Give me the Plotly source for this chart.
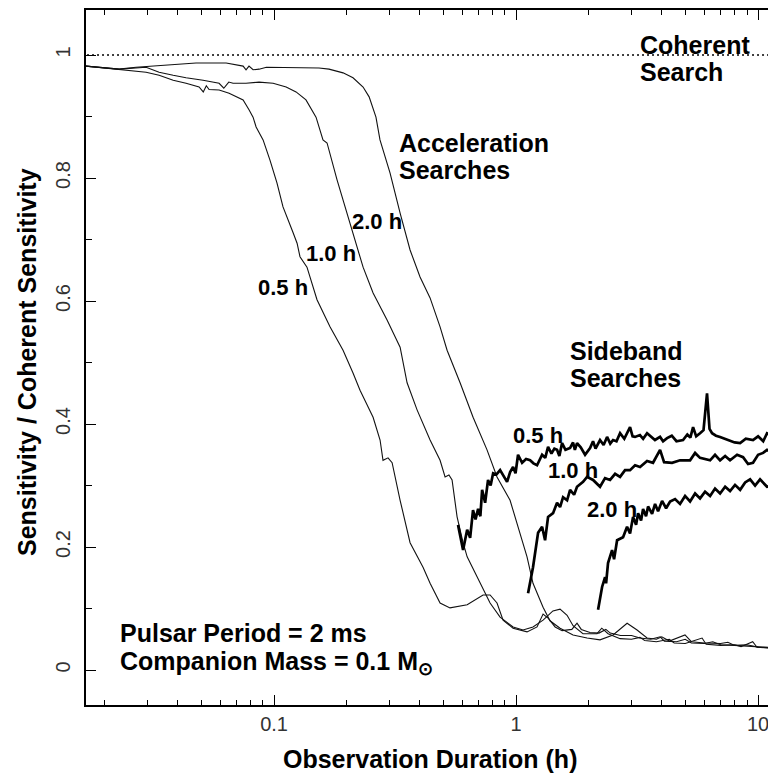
import plotly.graph_objects as go

# ---------------- data (x: observation duration in hours, y: relative sensitivity) ----------------
coherent_x = [0.01, 20.0]
coherent_y = [1.0, 1.0]

acc05_x = [0.0167, 0.0202, 0.0229, 0.0296, 0.0335, 0.0383, 0.0433, 0.0465, 0.0490, 0.0510, 0.0525, 0.0539,
           0.0593, 0.0652, 0.0697, 0.0745, 0.0788, 0.0819, 0.0843, 0.0901, 0.0962, 0.1028, 0.1089, 0.1132,
           0.1199, 0.1245, 0.1280, 0.1368, 0.1505, 0.1703, 0.1928, 0.2120, 0.2266, 0.2566, 0.2742, 0.2820,
           0.2958, 0.3075, 0.3318, 0.3648, 0.4127, 0.4413, 0.4853, 0.5335, 0.6281, 0.7306, 0.7809, 0.8343,
           0.8836, 0.9719, 1.110, 1.221, 1.293, 1.36, 1.45, 1.55, 1.70, 1.786, 1.86, 2.02, 2.2, 2.35, 2.45,
           2.7, 3.0, 3.25, 3.6, 3.94, 4.1, 4.6, 5.0, 5.3, 6.0, 6.5, 7.0, 8.0, 9.0, 10.0, 11.9]
acc05_y = [0.982, 0.979, 0.977, 0.972, 0.967, 0.959, 0.954, 0.950, 0.948, 0.940, 0.950, 0.944,
           0.943, 0.938, 0.932, 0.927, 0.911, 0.899, 0.883, 0.862, 0.829, 0.792, 0.753, 0.737,
           0.711, 0.694, 0.672, 0.655, 0.602, 0.558, 0.520, 0.483, 0.455, 0.411, 0.374, 0.341,
           0.345, 0.337, 0.276, 0.207, 0.167, 0.141, 0.109, 0.101, 0.106, 0.122, 0.122, 0.109,
           0.081, 0.068, 0.062, 0.070, 0.091, 0.084, 0.070, 0.064, 0.066, 0.076, 0.066, 0.061, 0.060, 0.066, 0.060,
           0.056, 0.056, 0.052, 0.050, 0.054, 0.047, 0.046, 0.050, 0.044, 0.043, 0.046, 0.041, 0.040, 0.039, 0.037, 0.036]

acc10_x = [0.0167, 0.0229, 0.0296, 0.0335, 0.0383, 0.0433, 0.0509, 0.0593, 0.062, 0.065, 0.0677, 0.0766,
           0.0867, 0.0991, 0.1122, 0.1233, 0.1355, 0.1491, 0.1593, 0.1656, 0.1821, 0.2003, 0.2203, 0.2333,
           0.2566, 0.2931, 0.3318, 0.3546, 0.3899, 0.4413, 0.4853, 0.509, 0.528, 0.544, 0.5706, 0.604,
           0.628, 0.690, 0.731, 0.781, 0.859, 0.972, 1.069, 1.175, 1.293, 1.42, 1.52, 1.625, 1.72, 1.89,
           2.16, 2.26, 2.4, 2.69, 3.0, 3.25, 3.4, 3.8, 4.3, 4.5, 5.0, 5.87, 6.1, 7.0, 8.0, 8.5, 9.5, 9.9, 11.9]
acc10_y = [0.982, 0.977, 0.980, 0.972, 0.967, 0.963, 0.959, 0.954, 0.946, 0.956, 0.954, 0.954,
           0.956, 0.954, 0.948, 0.940, 0.927, 0.899, 0.862, 0.857, 0.797, 0.743, 0.688, 0.655,
           0.613, 0.569, 0.525, 0.467, 0.423, 0.374, 0.341, 0.314, 0.317, 0.309, 0.249, 0.207,
           0.184, 0.151, 0.130, 0.109, 0.086, 0.070, 0.065, 0.070, 0.081, 0.096, 0.099, 0.089, 0.072, 0.059,
           0.059, 0.068, 0.059, 0.051, 0.050, 0.053, 0.048, 0.046, 0.050, 0.044, 0.043, 0.052, 0.042, 0.040,
           0.041, 0.038, 0.046, 0.037, 0.035]

acc20_x = [0.0167, 0.0202, 0.0229, 0.0269, 0.0316, 0.0383, 0.0476, 0.0634, 0.0745, 0.0766, 0.0788, 0.0819,
           0.0867, 0.0930, 0.1122, 0.1318, 0.1534, 0.1687, 0.1928, 0.2120, 0.2333, 0.2471, 0.2637, 0.274,
           0.3016, 0.3318, 0.3648, 0.4011, 0.4413, 0.4853, 0.5188, 0.5871, 0.6643, 0.7586, 0.8343, 0.9446,
           1.0095, 1.110, 1.175, 1.293, 1.381, 1.52, 1.72, 1.965, 2.223, 2.517, 2.876, 3.162, 3.478, 3.8,
           4.0, 4.3, 4.99, 5.3, 6.0, 7.0, 7.5, 8.0, 9.0, 10.0, 11.9]
acc20_y = [0.982, 0.979, 0.977, 0.980, 0.982, 0.985, 0.987, 0.987, 0.982, 0.976, 0.982, 0.976,
           0.977, 0.980, 0.980, 0.979, 0.979, 0.977, 0.971, 0.963, 0.948, 0.932, 0.899, 0.862,
           0.808, 0.743, 0.683, 0.639, 0.605, 0.558, 0.520, 0.467, 0.411, 0.358, 0.314, 0.276,
           0.239, 0.184, 0.141, 0.102, 0.080, 0.068, 0.057, 0.052, 0.049, 0.057, 0.076, 0.065, 0.052, 0.050,
           0.054, 0.047, 0.057, 0.046, 0.044, 0.043, 0.045, 0.040, 0.041, 0.037, 0.036]

sb05_x = [0.5757, 0.604, 0.628, 0.646, 0.664, 0.680, 0.697, 0.712, 0.724, 0.745, 0.766, 0.785, 0.804, 0.830,
          0.859, 0.885, 0.918, 0.945, 0.972, 0.995, 1.019, 1.059, 1.10, 1.143, 1.18, 1.221, 1.281, 1.32,
          1.356, 1.40, 1.44, 1.477, 1.51, 1.549, 1.60, 1.672, 1.72, 1.75, 1.786, 1.85, 1.928, 2.022, 2.08,
          2.13, 2.223, 2.30, 2.377, 2.45, 2.517, 2.60, 2.69, 2.80, 2.958, 3.03, 3.102, 3.25, 3.35, 3.478,
          3.60, 3.75, 3.936, 4.05, 4.207, 4.40, 4.60, 4.898, 5.10, 5.25, 5.388, 5.55, 5.757, 5.95, 6.152,
          6.30, 6.455, 6.70, 6.966, 7.30, 7.66, 8.00, 8.43, 8.90, 9.53, 10.0, 10.5, 10.89, 11.9]
sb05_y = [0.236, 0.195, 0.228, 0.215, 0.260, 0.245, 0.262, 0.250, 0.293, 0.272, 0.309, 0.300, 0.320, 0.318,
          0.325, 0.316, 0.306, 0.322, 0.330, 0.320, 0.350, 0.337, 0.343, 0.341, 0.336, 0.333, 0.350, 0.345,
          0.363, 0.352, 0.360, 0.358, 0.348, 0.369, 0.358, 0.361, 0.370, 0.358, 0.369, 0.362, 0.350, 0.361, 0.372,
          0.360, 0.374, 0.366, 0.379, 0.368, 0.374, 0.372, 0.385, 0.376, 0.395, 0.380, 0.379, 0.382, 0.376, 0.385,
          0.380, 0.374, 0.379, 0.372, 0.377, 0.381, 0.372, 0.374, 0.383, 0.378, 0.395, 0.380, 0.385, 0.390, 0.450,
          0.392, 0.385, 0.381, 0.379, 0.376, 0.374, 0.370, 0.369, 0.376, 0.374, 0.380, 0.372, 0.385, 0.378]

sb10_x = [1.121, 1.175, 1.233, 1.281, 1.318, 1.356, 1.422, 1.477, 1.52, 1.564, 1.625, 1.672, 1.737, 1.786,
          1.892, 1.965, 2.081, 2.223, 2.332, 2.446, 2.566, 2.69, 2.82, 2.958, 3.102, 3.254, 3.478, 3.68,
          3.936, 4.089, 4.412, 4.76, 5.236, 5.492, 5.757, 6.335, 6.64, 6.966, 7.31, 7.66, 8.19, 8.67,
          9.09, 9.53, 10.0, 10.49, 10.89, 11.9]
sb10_y = [0.125, 0.167, 0.223, 0.233, 0.211, 0.249, 0.255, 0.272, 0.265, 0.281, 0.276, 0.293, 0.285, 0.298,
          0.306, 0.314, 0.309, 0.298, 0.312, 0.309, 0.319, 0.314, 0.325, 0.325, 0.333, 0.330, 0.340, 0.337,
          0.358, 0.338, 0.337, 0.341, 0.341, 0.353, 0.345, 0.341, 0.350, 0.341, 0.348, 0.341, 0.350, 0.346,
          0.335, 0.337, 0.350, 0.353, 0.358, 0.350]

sb20_x = [2.182, 2.267, 2.332, 2.355, 2.399, 2.493, 2.541, 2.615, 2.768, 2.875, 2.958, 3.044, 3.133, 3.193,
          3.285, 3.348, 3.444, 3.512, 3.648, 3.753, 3.862, 4.012, 4.168, 4.329, 4.54, 4.76, 4.992, 5.236,
          5.492, 5.757, 6.04, 6.335, 6.64, 6.966, 7.31, 7.66, 8.03, 8.43, 8.84, 9.27, 9.72, 10.19, 10.89, 11.9]
sb20_y = [0.098, 0.135, 0.151, 0.141, 0.174, 0.195, 0.180, 0.211, 0.216, 0.233, 0.222, 0.249, 0.236, 0.255,
          0.243, 0.262, 0.250, 0.266, 0.254, 0.270, 0.258, 0.275, 0.263, 0.274, 0.278, 0.270, 0.283, 0.274,
          0.287, 0.279, 0.290, 0.283, 0.295, 0.287, 0.298, 0.291, 0.301, 0.293, 0.305, 0.310, 0.300, 0.310,
          0.298, 0.300]

y_ticks = [0, 0.2, 0.4, 0.6, 0.8, 1.0]
y_ticktext = ["0", "0.2", "0.4", "0.6", "0.8", "1"]
x_ticks = [0.1, 1, 10]
x_ticktext = ["0.1", "1", "10"]

# ---------------- figure ----------------
BOLD = "Liberation Sans, Arial, sans-serif"
REG = "Liberation Sans, Arial, sans-serif"
fig = go.Figure()

thin = dict(color="#111111", width=1.1)
thick = dict(color="#000000", width=2.7)

for xs, ys in [(acc05_x, acc05_y), (acc10_x, acc10_y), (acc20_x, acc20_y)]:
    fig.add_trace(go.Scatter(x=xs, y=ys, mode="lines", line=thin, hoverinfo="skip"))
for xs, ys in [(sb05_x, sb05_y), (sb10_x, sb10_y), (sb20_x, sb20_y)]:
    fig.add_trace(go.Scatter(x=xs, y=ys, mode="lines", line=thick, hoverinfo="skip"))
fig.add_trace(go.Scatter(x=coherent_x, y=coherent_y, mode="lines",
                         line=dict(color="black", width=1.6, dash="2px,3px"), hoverinfo="skip"))

y_range = [-0.0569, 1.0732]
fig.update_layout(
    width=768, height=775,
    margin=dict(l=86, r=0, t=10, b=70),
    paper_bgcolor="white", plot_bgcolor="white",
    showlegend=False,
    xaxis=dict(
        type="log", range=[-1.777, 1.041], automargin=False,
        showline=True, linecolor="black", linewidth=1.5, mirror="ticks",
        ticks="inside", ticklen=10, tickwidth=1.3, tickcolor="black",
        tickmode="array", tickvals=x_ticks, ticktext=x_ticktext,
        tickfont=dict(family=REG, size=20, color="#333333"),
        ticklabelstandoff=0, ticklabeloverflow="allow",
        minor=dict(ticks="inside", ticklen=5, tickwidth=1, tickcolor="black", dtick="D1", showgrid=False),
        showgrid=False, zeroline=False,
    ),
    yaxis=dict(
        range=y_range, automargin=False,
        showline=True, linecolor="black", linewidth=1.5, mirror=False,
        ticks="inside", ticklen=10, tickwidth=1.3, tickcolor="black",
        tickmode="array", tickvals=y_ticks, ticktext=y_ticktext, tickangle=-90,
        tickfont=dict(family=REG, size=20, color="#333333"),
        ticklabelstandoff=6,
        minor=dict(ticks="inside", ticklen=6, tickwidth=1, tickcolor="black", dtick=0.1, tick0=0, showgrid=False),
        showgrid=False, zeroline=False,
    ),
    yaxis2=dict(
        range=y_range, overlaying="y", side="right", anchor="x", automargin=False,
        showline=False, ticks="inside", ticklen=3, tickwidth=1.3, tickcolor="black",
        tickmode="array", tickvals=y_ticks, showticklabels=False,
        minor=dict(ticks="inside", ticklen=3, tickwidth=1, tickcolor="black", dtick=0.1, tick0=0, showgrid=False),
        showgrid=False, zeroline=False,
    ),
)

# axis titles
fig.add_annotation(text="<b>Sensitivity / Coherent Sensitivity</b>", xref="paper", yref="paper",
                   x=-0.0865, y=0.4935, textangle=-90, xanchor="center", yanchor="middle",
                   showarrow=False, font=dict(family=BOLD, size=25, color="black"))
fig.add_annotation(text="<b>Observation Duration (h)</b>", xref="paper", yref="paper",
                   x=0.505, y=-0.078, xanchor="center", yanchor="middle",
                   showarrow=False, font=dict(family=BOLD, size=25, color="black"))

big = dict(family=BOLD, size=25, color="black")
small = dict(family=BOLD, size=22, color="black")
labels = [
    ("Coherent", 0.809, 0.950, "left", big),
    ("Search", 0.809, 0.911, "left", big),
    ("Acceleration", 0.456, 0.809, "left", big),
    ("Searches", 0.456, 0.770, "left", big),
    ("2.0 h", 0.427, 0.696, "center", small),
    ("1.0 h", 0.359, 0.649, "center", small),
    ("0.5 h", 0.289, 0.601, "center", small),
    ("Sideband", 0.707, 0.509, "left", big),
    ("Searches", 0.707, 0.471, "left", big),
    ("0.5 h", 0.663, 0.388, "center", small),
    ("1.0 h", 0.714, 0.337, "center", small),
    ("2.0 h", 0.771, 0.281, "center", small),
    ("Pulsar Period = 2 ms", 0.047, 0.103, "left", big),
    ("Companion Mass = 0.1 M<sub>⊙</sub>", 0.047, 0.060, "left", big),
]
for text, px, py, anchor, fnt in labels:
    fig.add_annotation(text="<b>" + text + "</b>", xref="paper", yref="paper", x=px, y=py,
                       xanchor=anchor, yanchor="middle", showarrow=False, font=fnt, align="left")

fig.write_html("out.html", config={"displayModeBar": False},
               post_script="document.body.style.margin='0';document.body.style.overflow='hidden';")
